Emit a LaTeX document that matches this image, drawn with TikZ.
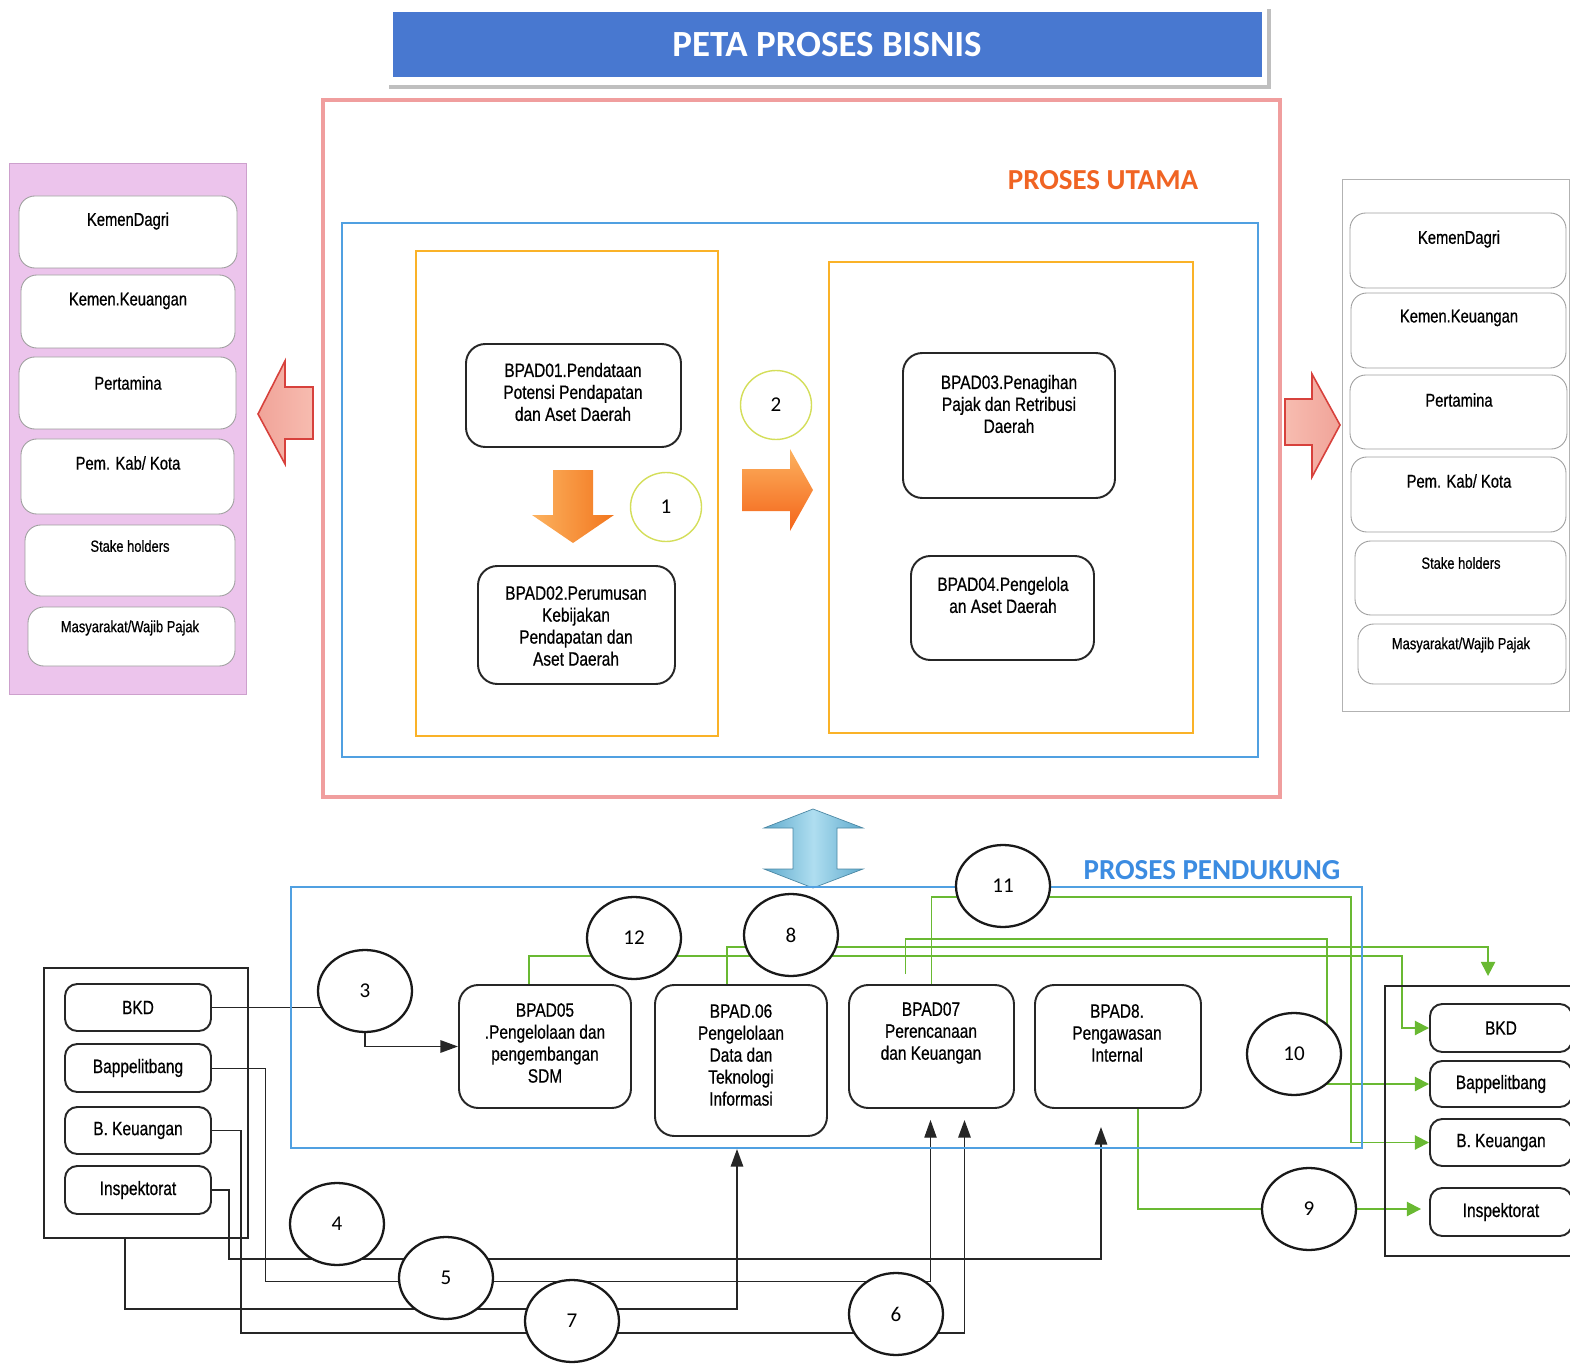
\documentclass[tikz,border=0pt]{standalone}
\usepackage{fontspec}
\setmainfont{Liberation Sans}
\newfontfamily\narrowsans[FakeStretch=0.8,FakeBold=0.6]{Liberation Sans}
\newfontfamily\calibsans{Carlito}
\usetikzlibrary{fit}
\usetikzlibrary{calc}
\usetikzlibrary{shapes.geometric}
\usetikzlibrary{arrows.meta}

\pgfdeclarelayer{background}
\pgfsetlayers{background,main}

\definecolor{titleblue}{RGB}{72,120,208}
\definecolor{utamared}{RGB}{240,158,158}
\definecolor{utamaorange}{RGB}{240,100,35}
\definecolor{frameblue}{RGB}{80,160,225}
\definecolor{frameorange}{RGB}{250,178,40}
\definecolor{ringyellow}{RGB}{212,222,90}
\definecolor{arroworange}{RGB}{242,118,30}
\definecolor{arrowlight}{RGB}{252,178,95}
\definecolor{colpink}{RGB}{236,196,236}
\definecolor{colpinkline}{RGB}{205,160,205}
\definecolor{pinkfill}{RGB}{247,188,176}
\definecolor{pinkline}{RGB}{215,65,60}
\definecolor{dblblue}{RGB}{95,170,205}
\definecolor{dbllight}{RGB}{175,222,240}
\definecolor{pendblue}{RGB}{60,140,225}
\definecolor{flowgreen}{RGB}{105,185,50}

\tikzset{
  titletext/.style={inner sep=0pt, text=white, font=\calibsans\bfseries\fontsize{21}{24}\selectfont},
  headtext/.style={inner sep=0pt, font=\calibsans\bfseries\fontsize{16.5}{19}\selectfont},
  rbox/.style={draw=black!85, line width=1.1pt, rounded corners=11pt, fill=white, inner sep=0pt},
  rboxs/.style={draw=black!85, line width=1.1pt, rounded corners=7pt, fill=white, inner sep=0pt},
  sbox/.style={draw=black!38, line width=0.5pt, rounded corners=9pt, fill=white, inner sep=0pt},
  gbox/.style={draw=black!85, line width=1.1pt, inner sep=0pt},
  btext/.style={font=\narrowsans\fontsize{11}{12.5}\selectfont, align=center, inner sep=0pt},
  stext/.style={font=\narrowsans\fontsize{10.5}{12}\selectfont, inner sep=0pt},
  ltext/.style={font=\narrowsans\fontsize{9.2}{11}\selectfont, inner sep=0pt},
  num/.style={ellipse, draw=black!90, line width=1.3pt, fill=white, minimum width=1.88cm, minimum height=1.64cm, inner sep=0pt, font=\calibsans\fontsize{12}{14}\selectfont},
  ynum/.style={ellipse, draw=ringyellow, line width=0.8pt, fill=white, minimum width=1.42cm, minimum height=1.38cm, inner sep=0pt, font=\calibsans\fontsize{12}{14}\selectfont},
  blk/.style={draw=black!85, line width=1.1pt},
  tip/.style={-{Triangle[length=10pt,width=7pt]}},
  grn/.style={draw=flowgreen, line width=1.1pt},
  gtip/.style={-{Triangle[length=8pt,width=8pt]}},
}

\begin{document}
\begin{tikzpicture}[x=0.02cm, y=-0.02cm]
\useasboundingbox (0,0) rectangle (1570,1365);
\clip (0,0) rectangle (1570,1365);

% judul
\fill[black!25] (389,9) rectangle (1271,89);
\fill[white] (389,9) rectangle (1267,85);
\node[fit={(393,12) (1262,77)}, fill=titleblue, inner sep=0pt] (title) {};
\node[titletext] (titlet) at (827,45) {PETA PROSES BISNIS};

% proses utama
\draw[utamared, line width=1.8pt] (323,100) rectangle (1280,797);
\node[headtext, text=utamaorange] (utama) at (1103,180) {PROSES UTAMA};
\draw[frameblue, line width=1pt] (342,223) rectangle (1258,757);
\draw[frameorange, line width=1.3pt] (416,251) rectangle (718,736);
\draw[frameorange, line width=1.3pt] (829,262) rectangle (1193,733);

\node[rbox, fit={(466,344) (681,447)}] (bpad01) {};
\node[btext] (t01) at (573,392) {BPAD01.Pendataan\\Potensi Pendapatan\\dan Aset Daerah};
\node[rbox, fit={(478,566) (675,684)}] (bpad02) {};
\node[btext] (t02) at (576,626) {BPAD02.Perumusan\\Kebijakan\\Pendapatan dan\\Aset Daerah};
\node[rbox, fit={(903,353) (1115,498)}] (bpad03) {};
\node[btext] (t03) at (1009,404) {BPAD03.Penagihan\\Pajak dan Retribusi\\Daerah};
\node[rbox, fit={(911,556) (1094,660)}] (bpad04) {};
\node[btext] (t04) at (1003,595) {BPAD04.Pengelola\\an Aset Daerah};

\node[ynum] (c1) at (666,507) {1};
\node[ynum] (c2) at (776,405) {2};

% panah oranye
\shade[left color=arrowlight, right color=arroworange] (553,470) -- (593,470) -- (593,515) -- (614,515) -- (573,543) -- (532,515) -- (553,515) -- cycle;
\shade[top color=arrowlight, bottom color=arroworange!85!red] (742,469) -- (790,469) -- (790,449) -- (813,490) -- (790,531) -- (790,511) -- (742,511) -- cycle;

% panah merah muda
\draw[pinkline, line width=0.9pt, left color=pinkfill!80!pinkline, right color=pinkfill] (313,387) -- (285,387) -- (285,361) -- (258,414) -- (285,464) -- (285,439) -- (313,439) -- cycle;
\draw[pinkline, line width=0.9pt, left color=pinkfill, right color=pinkfill!80!pinkline] (1285,399) -- (1312,399) -- (1312,374) -- (1340,425) -- (1312,477) -- (1312,445) -- (1285,445) -- cycle;

% kolom kiri
\node[fit={(9,163) (246,694)}, fill=colpink, draw=colpinkline, inner sep=0pt] (leftcol) {};
\node[sbox, fit={(19,196) (237,268)}] (lk1) {};
\node[stext] (lt1) at (128,221) {KemenDagri};
\node[sbox, fit={(21,275) (235,348)}] (lk2) {};
\node[stext] (lt2) at (128,301) {Kemen.Keuangan};
\node[sbox, fit={(19,357) (236,429)}] (lk3) {};
\node[stext] (lt3) at (128,383) {Pertamina};
\node[sbox, fit={(21,439) (234,514)}] (lk4) {};
\node[stext] (lt4) at (128,463) {Pem. Kab/ Kota};
\node[sbox, fit={(25,525) (235,596)}] (lk5) {};
\node[ltext] (lt5) at (130,546) {Stake holders};
\node[sbox, fit={(28,607) (235,666)}] (lk6) {};
\node[ltext] (lt6) at (130,628) {Masyarakat/Wajib Pajak};

% kolom kanan
\node[fit={(1342,179) (1569,711)}, draw=black!30, line width=0.5pt, inner sep=0pt] (rightcol) {};
\node[sbox, fit={(1350,213) (1566,288)}] (rk1) {};
\node[stext] (rt1) at (1459,239) {KemenDagri};
\node[sbox, fit={(1351,293) (1566,368)}] (rk2) {};
\node[stext] (rt2) at (1459,318) {Kemen.Keuangan};
\node[sbox, fit={(1350,375) (1567,449)}] (rk3) {};
\node[stext] (rt3) at (1459,400) {Pertamina};
\node[sbox, fit={(1351,457) (1566,532)}] (rk4) {};
\node[stext] (rt4) at (1459,481) {Pem. Kab/ Kota};
\node[sbox, fit={(1355,541) (1566,615)}] (rk5) {};
\node[ltext] (rt5) at (1461,563) {Stake holders};
\node[sbox, fit={(1358,624) (1566,684)}] (rk6) {};
\node[ltext] (rt6) at (1461,645) {Masyarakat/Wajib Pajak};

% panah dua arah
\shade[left color=dblblue, right color=dblblue, middle color=dbllight, draw=dblblue!80!black, line width=0.4pt] (813,809) -- (863,828) -- (837,828) -- (837,869) -- (863,869) -- (813,888) -- (764,869) -- (793,869) -- (793,828) -- (764,828) -- cycle;

% proses pendukung
\node[headtext, text=pendblue] (pendukung) at (1212,870) {PROSES PENDUKUNG};
\draw[frameblue, line width=1pt] (291,887) rectangle (1362,1148);

\node[rbox, fit={(459,985) (631,1108)}] (bpad05) {};
\node[btext] (t05) at (545,1043) {BPAD05\\.Pengelolaan dan\\pengembangan\\SDM};
\node[rbox, fit={(655,985) (827,1136)}] (bpad06) {};
\node[btext] (t06) at (741,1055) {BPAD.06\\Pengelolaan\\Data dan\\Teknologi\\Informasi};
\node[rbox, fit={(849,985) (1014,1108)}] (bpad07) {};
\node[btext] (t07) at (931,1033) {BPAD07\\Perencanaan\\dan Keuangan};
\node[rbox, fit={(1035,985) (1201,1108)}] (bpad08) {};
\node[btext] (t08) at (1117,1033) {BPAD8.\\Pengawasan\\Internal};

% unit kiri
\node[gbox, fit={(44,968) (248,1238)}] (leftgrp) {};
\node[rboxs, fit={(65,984) (211,1031)}] (bkdA) {};
\node[btext] (bkdAt) at (bkdA) {BKD};
\node[rboxs, fit={(65,1044) (211,1092)}] (bappA) {};
\node[btext] (bappAt) at (bappA) {Bappelitbang};
\node[rboxs, fit={(65,1107) (211,1154)}] (bkeuA) {};
\node[btext] (bkeuAt) at (bkeuA) {B. Keuangan};
\node[rboxs, fit={(65,1166) (211,1214)}] (inspA) {};
\node[btext] (inspAt) at (inspA) {Inspektorat};

% unit kanan
\node[gbox, fit={(1385,986) (1600,1256)}] (rightgrp) {};
\node[rboxs, fit={(1430,1004) (1572,1052)}] (bkdB) {};
\node[btext] (bkdBt) at (bkdB) {BKD};
\node[rboxs, fit={(1430,1061) (1572,1107)}] (bappB) {};
\node[btext] (bappBt) at (bappB) {Bappelitbang};
\node[rboxs, fit={(1430,1119) (1572,1166)}] (bkeuB) {};
\node[btext] (bkeuBt) at (bkeuB) {B. Keuangan};
\node[rboxs, fit={(1430,1188) (1572,1236)}] (inspB) {};
\node[btext] (inspBt) at (inspB) {Inspektorat};

% lingkaran nomor
\node[num] (c3) at (365,991) {3};
\node[num] (c4) at (337,1224) {4};
\node[num] (c5) at (446,1278) {5};
\node[num] (c6) at (896,1314) {6};
\node[num] (c7) at (572,1321) {7};
\node[num] (c8) at (791,935) {8};
\node[num] (c9) at (1309,1209) {9};
\node[num] (c10) at (1294,1054) {10};
\node[num] (c11) at (1003,886) {11};
\node[num] (c12) at (634,938) {12};

\begin{pgfonlayer}{background}
% garis hitam
\draw[blk] (bkdA.east) -- (bkdA.east -| c3.center);
\draw[blk, tip] (c3.center) |- (bpad05.west);
\draw[blk, line width=0.5pt, tip] (bappA.east) -- ++(53,0) |- ($(bpad07.south)+(-1,172)$) -- ($(bpad07.south)+(-1,11)$);
\draw[blk, tip] (bkeuA.east) -- ++(29,0) |- ($(bpad07.south)+(33,224)$) -- ($(bpad07.south)+(33,11)$);
\draw[blk, tip] (inspA.east) -- ++(17,0) |- ($(bpad08.south)+(-17,150)$) -- ($(bpad08.south)+(-17,18)$);
\draw[blk, tip] ($(leftgrp.south)+(-21,0)$) -- ++(0,70) -| ($(bpad06.south)+(-4,12)$);
% garis hijau
\draw[grn, gtip] ($(bpad05.north)+(-16,0)$) |- ($(c8.center)+(0,21)$) -| ($(bkdB.west)+(-27,0)$) -- (bkdB.west);
\draw[grn, gtip] ($(bpad06.north)+(-14,0)$) |- ($(c8.center)+(0,12)$) -| ($(rightgrp.north west)+(104,-9)$);
\draw[grn] ($(bpad07.north)+(-26,-10)$) |- ($(c10.center)+(33,-115)$) -- ($(c10.center)+(33,0)$);
\draw[grn, gtip] (c10.center |- bappB.west) -- (bappB.west);
\draw[grn, gtip] (bpad07.north) |- ($(c11.center)+(0,11)$) -| ($(bkeuB.west)+(-78,0)$) -- (bkeuB.west);
\draw[grn] ($(bpad08.south)+(20,0)$) |- (c9.center);
\draw[grn, gtip] (c9.center) -- ($(inspB.west |- c9.center)+(-8,0)$);
\end{pgfonlayer}
\end{tikzpicture}
\end{document}
